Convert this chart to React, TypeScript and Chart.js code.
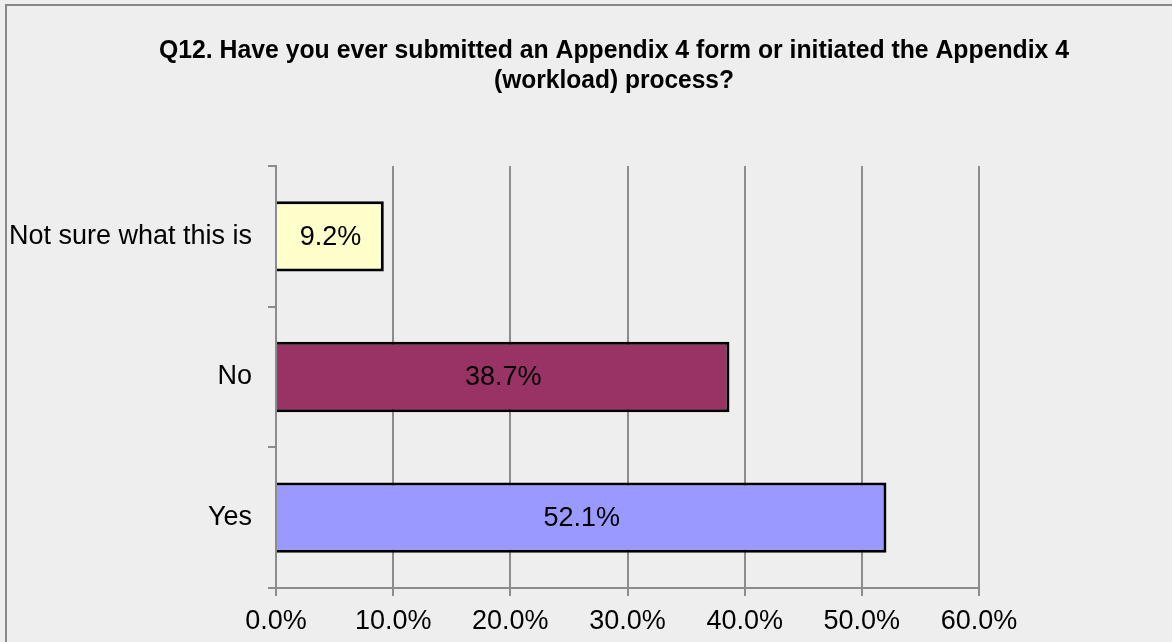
import React, { useEffect, useRef } from "react";
import { Chart, registerables } from "chart.js";

Chart.register(...registerables);

const categories: string[] = ["Not sure what this is", "No", "Yes"];
const percentages: number[] = [9.2, 38.7, 52.1];
const barColors: string[] = ["#FFFFCC", "#993366", "#9999FF"];
const titleLines: string[] = [
  "Q12. Have you ever submitted an Appendix 4 form or initiated the Appendix 4",
  "(workload) process?",
];

const FONT = "'Liberation Sans', Arial, sans-serif";
const GRID = "#8c8c8c";

const framePlugin = {
  id: "frame",
  beforeDraw(chart: any) {
    const ctx = chart.ctx;
    ctx.save();
    ctx.fillStyle = "#eeeeee";
    ctx.fillRect(0, 0, chart.width, chart.height);
    ctx.strokeStyle = "#888888";
    ctx.lineWidth = 2;
    ctx.beginPath();
    ctx.moveTo(6, chart.height);
    ctx.lineTo(6, 5);
    ctx.lineTo(chart.width, 5);
    ctx.stroke();
    ctx.restore();
  },
  afterDraw(chart: any) {
    const ctx = chart.ctx;
    ctx.save();
    ctx.fillStyle = "#000";
    ctx.font = `bold 26px ${FONT}`;
    ctx.textAlign = "center";
    ctx.textBaseline = "alphabetic";
    ctx.fillText(titleLines[0], 614, 58, 910);
    ctx.fillText(titleLines[1], 614, 88, 240);
    ctx.restore();
  },
};

const labelPlugin = {
  id: "barLabels",
  afterDatasetsDraw(chart: any) {
    const ctx = chart.ctx;
    const meta = chart.getDatasetMeta(0);
    ctx.save();
    ctx.fillStyle = "#000";
    ctx.font = `27px ${FONT}`;
    ctx.textAlign = "center";
    ctx.textBaseline = "middle";
    meta.data.forEach((bar: any, i: number) => {
      const x = (bar.x + bar.base) / 2;
      ctx.fillText(percentages[i].toFixed(1) + "%", x, bar.y + 1);
    });
    ctx.restore();
  },
};

export default function App() {
  const ref = useRef<HTMLCanvasElement | null>(null);
  useEffect(() => {
    if (!ref.current) return;
    const chart = new Chart(ref.current, {
      type: "bar",
      data: {
        labels: categories,
        datasets: [
          {
            data: percentages,
            backgroundColor: barColors,
            borderColor: "#000",
            borderWidth: 3,
            barPercentage: 0.5,
            categoryPercentage: 1.0,
          },
        ],
      },
      options: {
        indexAxis: "y",
        responsive: false,
        animation: false,
        layout: { padding: { top: 166, right: 193, bottom: 0, left: 0 } },
        plugins: {
          legend: { display: false },
          title: { display: false },
          tooltip: { enabled: false },
        },
        scales: {
          x: {
            min: 0,
            max: 60,
            ticks: {
              stepSize: 10,
              callback: (v: any) => Number(v).toFixed(1) + "%",
              font: { size: 27, family: FONT },
              color: "#000",
              padding: 9,
            },
            grid: { color: GRID, lineWidth: 2, tickLength: 8, drawOnChartArea: true },
            border: { display: true, color: GRID, width: 2 },
            afterFit: (s: any) => {
              s.height = 54;
            },
          },
          y: {
            ticks: {
              font: { size: 27, family: FONT },
              color: "#000",
              padding: 16,
            },
            grid: {
              color: GRID,
              lineWidth: 2,
              tickLength: 8,
              drawOnChartArea: false,
              drawTicks: true,
              offset: true,
            },
            border: { display: true, color: GRID, width: 2 },
            afterFit: (s: any) => {
              s.width = 276;
            },
          },
        },
      },
      plugins: [framePlugin, labelPlugin],
    } as any);
    return () => chart.destroy();
  }, []);
  return (
    <div style={{ position: "absolute", left: 0, top: 0, width: 1172, height: 642 }}>
      <canvas ref={ref} width={1172} height={642} style={{ width: 1172, height: 642, display: "block" }} />
    </div>
  );
}
